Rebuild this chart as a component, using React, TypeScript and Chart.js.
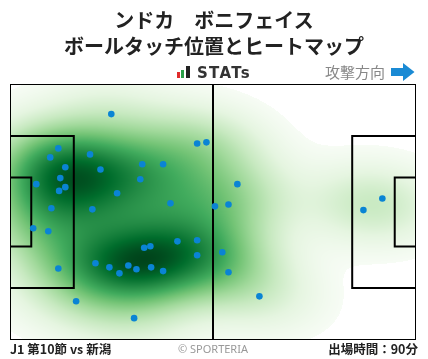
import React, { useEffect, useRef } from "react";
import { Chart, registerables } from "chart.js";

Chart.register(...registerables);

// ---- data (metres on a 105 x 68 pitch, y measured from the top touchline) ----
const PITCH_LENGTH = 105;
const PITCH_WIDTH = 68;

const touchX = [
  26.2, 12.5, 10.4, 20.7, 14.3, 23.4, 13.0, 6.8, 14.3, 12.7, 27.7, 34.2, 39.6, 33.7,
  48.4, 50.8, 41.5, 10.7, 21.3, 53.0, 6.0, 9.9, 34.7, 36.3, 43.3, 48.4, 48.4, 22.1,
  25.7, 30.6, 28.3, 32.7, 36.5, 39.6, 12.5, 17.1, 32.1, 58.8, 56.5, 91.4, 96.3, 54.9,
  56.5, 64.5,
];
const touchY = [
  8.0, 17.1, 19.5, 18.7, 22.1, 22.7, 25.0, 26.6, 27.4, 28.4, 29.0, 21.3, 21.3, 25.3,
  15.8, 15.5, 31.7, 33.0, 33.3, 32.5, 38.3, 39.1, 43.5, 43.1, 41.8, 41.5, 45.5, 47.6,
  48.7, 48.2, 50.3, 49.2, 48.7, 49.7, 49.0, 57.7, 62.2, 26.6, 32.0, 33.5, 30.4, 44.7,
  50.0, 56.4,
];

const TITLE_NAME = "ンドカ　ボニフェイス";
const TITLE_SUB = "ボールタッチ位置とヒートマップ";
const BRAND = "STATs";
const DIRECTION_LABEL = "攻撃方向";
const MATCH_LABEL = "J1 第10節 vs 新潟";
const CREDIT = "© SPORTERIA";
const MINUTES_LABEL = "出場時間：90分";

// matplotlib "Greens"
const GREENS: number[][] = [
  [247, 252, 245],
  [229, 245, 224],
  [199, 233, 192],
  [161, 217, 155],
  [116, 196, 118],
  [65, 171, 93],
  [35, 139, 69],
  [0, 109, 44],
  [0, 68, 27],
];

const BW_ADJUST = 1.0;
const THRESH = 0.01;
const GAMMA = 0.85;

function greens(t: number): number[] {
  const v = Math.max(0, Math.min(1, t)) * (GREENS.length - 1);
  const i = Math.min(GREENS.length - 2, Math.floor(v));
  const f = v - i;
  const a = GREENS[i];
  const b = GREENS[i + 1];
  return [a[0] + (b[0] - a[0]) * f, a[1] + (b[1] - a[1]) * f, a[2] + (b[2] - a[2]) * f];
}

function buildKde(xs: number[], ys: number[], thresh: number, adjust: number) {
  const n = xs.length;
  const mx = xs.reduce((s, v) => s + v, 0) / n;
  const my = ys.reduce((s, v) => s + v, 0) / n;
  let sxx = 0, syy = 0, sxy = 0;
  for (let k = 0; k < n; k++) {
    const dx = xs[k] - mx, dy = ys[k] - my;
    sxx += dx * dx; syy += dy * dy; sxy += dx * dy;
  }
  sxx /= n - 1; syy /= n - 1; sxy /= n - 1;
  const f2 = Math.pow(n, -1 / 3) * adjust * adjust;
  const a = sxx * f2, b = sxy * f2, c = syy * f2;
  const det = a * c - b * b;
  const ia = c / det, ib = -b / det, ic = a / det;
  const dens = (px: number, py: number) => {
    let s = 0;
    for (let k = 0; k < n; k++) {
      const dx = px - xs[k], dy = py - ys[k];
      s += Math.exp(-0.5 * (ia * dx * dx + 2 * ib * dx * dy + ic * dy * dy));
    }
    return s;
  };
  const bwx = Math.sqrt(a), bwy = Math.sqrt(c);
  const x0 = Math.min(...xs) - 3 * bwx, x1 = Math.max(...xs) + 3 * bwx;
  const y0 = Math.min(...ys) - 3 * bwy, y1 = Math.max(...ys) + 3 * bwy;
  const G = 200;
  const vals: number[] = [];
  for (let i = 0; i < G; i++) {
    for (let j = 0; j < G; j++) {
      vals.push(dens(x0 + ((x1 - x0) * i) / (G - 1), y0 + ((y1 - y0) * j) / (G - 1)));
    }
  }
  vals.sort((p, q) => q - p);
  const total = vals.reduce((s, v) => s + v, 0);
  let cum = 0;
  let lo = vals[vals.length - 1];
  for (let i = 0; i < vals.length; i++) {
    cum += vals[i];
    if (cum / total >= 1 - thresh) { lo = vals[i]; break; }
  }
  return { dens, lo, hi: vals[0] };
}

const heatPlugin = {
  id: "heatmap",
  beforeDatasetsDraw(chart: any) {
    const { ctx, chartArea: area, scales } = chart;
    const xs = scales.x, ys = scales.y;
    const kde = buildKde(touchX, touchY, THRESH, BW_ADJUST);
    const w = Math.round(area.right - area.left);
    const h = Math.round(area.bottom - area.top);
    const off = document.createElement("canvas");
    off.width = w; off.height = h;
    const octx = off.getContext("2d")!;
    const img = octx.createImageData(w, h);
    for (let j = 0; j < h; j++) {
      const ym = ys.getValueForPixel(area.top + j + 0.5);
      for (let i = 0; i < w; i++) {
        const xm = xs.getValueForPixel(area.left + i + 0.5);
        const d = kde.dens(xm, ym);
        if (d < kde.lo) continue;
        const col = greens(Math.pow((d - kde.lo) / (kde.hi - kde.lo), GAMMA));
        const p = (j * w + i) * 4;
        img.data[p] = col[0]; img.data[p + 1] = col[1]; img.data[p + 2] = col[2]; img.data[p + 3] = 255;
      }
    }
    octx.putImageData(img, 0, 0);
    ctx.save();
    ctx.drawImage(off, area.left, area.top, w, h);
    ctx.restore();

    // pitch markings
    const X = (v: number) => xs.getPixelForValue(v);
    const Y = (v: number) => ys.getPixelForValue(v);
    const boxD = 16.5, boxW = 40.32, gaD = 5.5, gaW = 18.32;
    const midY = PITCH_WIDTH / 2;
    ctx.save();
    ctx.strokeStyle = "#000";
    ctx.lineWidth = 1;
    ctx.strokeRect(area.left + 0.5, area.top + 0.5, area.right - area.left - 1, area.bottom - area.top - 1);
    ctx.lineWidth = 2;
    ctx.beginPath();
    ctx.moveTo(X(PITCH_LENGTH / 2), Y(0));
    ctx.lineTo(X(PITCH_LENGTH / 2), Y(PITCH_WIDTH));
    ctx.moveTo(X(0), Y(midY - boxW / 2));
    ctx.lineTo(X(boxD), Y(midY - boxW / 2));
    ctx.lineTo(X(boxD), Y(midY + boxW / 2));
    ctx.lineTo(X(0), Y(midY + boxW / 2));
    ctx.moveTo(X(0), Y(midY - gaW / 2));
    ctx.lineTo(X(gaD), Y(midY - gaW / 2));
    ctx.lineTo(X(gaD), Y(midY + gaW / 2));
    ctx.lineTo(X(0), Y(midY + gaW / 2));
    ctx.moveTo(X(PITCH_LENGTH), Y(midY - boxW / 2));
    ctx.lineTo(X(PITCH_LENGTH - boxD), Y(midY - boxW / 2));
    ctx.lineTo(X(PITCH_LENGTH - boxD), Y(midY + boxW / 2));
    ctx.lineTo(X(PITCH_LENGTH), Y(midY + boxW / 2));
    ctx.moveTo(X(PITCH_LENGTH), Y(midY - gaW / 2));
    ctx.lineTo(X(PITCH_LENGTH - gaD), Y(midY - gaW / 2));
    ctx.lineTo(X(PITCH_LENGTH - gaD), Y(midY + gaW / 2));
    ctx.lineTo(X(PITCH_LENGTH), Y(midY + gaW / 2));
    ctx.stroke();
    ctx.restore();
  },
};

const JP = '"Noto Sans CJK JP", "Noto Sans", sans-serif';

export default function App() {
  const ref = useRef<HTMLCanvasElement | null>(null);

  useEffect(() => {
    if (!ref.current) return;
    const chart = new Chart(ref.current, {
      type: "scatter",
      data: {
        datasets: [
          {
            data: touchX.map((x, i) => ({ x, y: touchY[i] })),
            backgroundColor: "#0a84d4",
            borderWidth: 0,
            pointRadius: 3.3,
            pointHoverRadius: 3.3,
          },
        ],
      },
      options: {
        responsive: false,
        animation: false,
        layout: { padding: { left: 10, top: 84, right: 12, bottom: 19 } },
        scales: {
          x: { type: "linear", min: 0, max: PITCH_LENGTH, display: false },
          y: { type: "linear", min: 0, max: PITCH_WIDTH, reverse: true, display: false },
        },
        plugins: { legend: { display: false }, tooltip: { enabled: false }, title: { display: false } },
        events: [],
      },
      plugins: [heatPlugin],
    });
    return () => chart.destroy();
  }, []);

  const abs = (o: React.CSSProperties): React.CSSProperties => ({ position: "absolute", margin: 0, whiteSpace: "nowrap", ...o });

  return (
    <div style={{ position: "absolute", left: 0, top: 0, width: 428, height: 359, background: "#fff", overflow: "hidden" }}>
      <canvas ref={ref} width={428} height={359} style={{ position: "absolute", left: 0, top: 0, width: 428, height: 359 }} />
      <div style={abs({ left: 0, top: 10, width: 428, textAlign: "center", font: `bold 20px ${JP}`, lineHeight: "20px", color: "#222" })}>{TITLE_NAME}</div>
      <div style={abs({ left: 0, top: 36, width: 428, textAlign: "center", font: `bold 20px ${JP}`, lineHeight: "20px", color: "#222" })}>{TITLE_SUB}</div>
      <div style={abs({ left: 177, top: 72, width: 3, height: 6, background: "#e02b2b" })} />
      <div style={abs({ left: 181, top: 70, width: 3, height: 8, background: "#2aa048" })} />
      <div style={abs({ left: 186, top: 66, width: 4, height: 12, background: "#222" })} />
      <div style={abs({ left: 197, top: 65, font: `bold 15px "DejaVu Sans", sans-serif`, lineHeight: "16px", color: "#333", letterSpacing: "1.3px" })}>{BRAND}</div>
      <div style={abs({ left: 325, top: 63, font: `15px ${JP}`, lineHeight: "17px", color: "#888" })}>{DIRECTION_LABEL}</div>
      <svg style={{ position: "absolute", left: 391, top: 63 }} width={24} height={18} viewBox="0 0 24 18">
        <polygon points="0,5 12,5 12,0 23.5,9 12,18 12,13 0,13" fill="#1a8ad4" />
      </svg>
      <div style={abs({ left: 10, top: 342, font: `bold 12.5px ${JP}`, lineHeight: "14px", color: "#222" })}>{MATCH_LABEL}</div>
      <div style={abs({ left: 163, top: 342, width: 100, textAlign: "center", font: `11px "Noto Sans", sans-serif`, lineHeight: "13px", color: "#999" })}>{CREDIT}</div>
      <div style={abs({ right: 10, top: 342, font: `bold 12.5px ${JP}`, lineHeight: "14px", color: "#222" })}>{MINUTES_LABEL}</div>
    </div>
  );
}
